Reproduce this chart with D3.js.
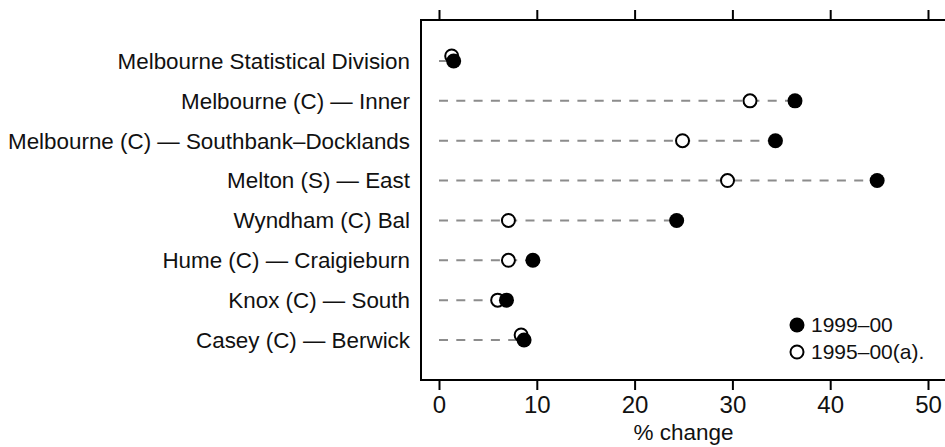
<!DOCTYPE html>
<html>
<head>
<meta charset="utf-8">
<script src="https://cdnjs.cloudflare.com/ajax/libs/d3/7.8.5/d3.min.js"></script>
<style>
  body { margin: 0; background: #fff; }
  text { font-family: "Liberation Sans", Arial, sans-serif; fill: #111; }
</style>
</head>
<body>
<div id="chart"></div>
<script>
// data
var regions = ["Melbourne Statistical Division", "Melbourne (C) \u2014 Inner",
  "Melbourne (C) \u2014 Southbank\u2013Docklands", "Melton (S) \u2014 East",
  "Wyndham (C) Bal", "Hume (C) \u2014 Craigieburn", "Knox (C) \u2014 South",
  "Casey (C) \u2014 Berwick"]
var change9900 = [1.5, 36.4, 34.4, 44.8, 24.3, 9.6, 6.9, 8.7]
var change9500 = [1.3, 31.8, 24.9, 29.5, 7.1, 7.1, 6.0, 8.4]
var xTicks = [0, 10, 20, 30, 40, 50]
var legendLabels = ["1999\u201300", "1995\u201300(a)."]

const W = 945, H = 447
const frame = {left: 421, top: 20, bottom: 380}

var svg = d3.select("#chart")
  .append("svg")
  .attr("width", W)
  .attr("height", H)

// scales
var x = d3.scaleLinear()
  .domain([0, 50])
  .range([439, 928])

var y = d3.scalePoint()
  .domain(regions)
  .range([61, 340])

// axes (ticks only, frame drawn separately)
svg.append("g")
  .attr("transform", "translate(0," + frame.top + ")")
  .call(d3.axisTop(x).tickValues(xTicks).tickSize(10).tickFormat(""))
  .call(g => g.select(".domain").remove())
  .selectAll("line").attr("stroke", "#000").attr("stroke-width", 2)

var xb = svg.append("g")
  .attr("transform", "translate(0," + frame.bottom + ")")
  .call(d3.axisBottom(x).tickValues(xTicks).tickSize(10))
  .call(g => g.select(".domain").remove())
xb.selectAll("line").attr("stroke", "#000").attr("stroke-width", 2)
xb.selectAll("text")
  .attr("y", 33)
  .attr("dy", null)
  .style("font-family", "Liberation Sans, Arial, sans-serif")
  .style("font-size", "24px")
  .attr("fill", "#111")

// frame
svg.append("path")
  .attr("d", "M" + W + "," + frame.top + "H" + frame.left + "V" + frame.bottom + "H" + W)
  .attr("fill", "none")
  .attr("stroke", "#000")
  .attr("stroke-width", 2)

// x title
svg.append("text")
  .attr("x", x(25))
  .attr("y", 440)
  .attr("text-anchor", "middle")
  .style("font-size", "22.5px")
  .text("% change")

// category labels
svg.selectAll(".lab")
  .data(regions)
  .enter()
  .append("text")
  .attr("class", "lab")
  .attr("x", 410)
  .attr("y", d => y(d))
  .attr("dy", "0.35em")
  .attr("text-anchor", "end")
  .style("font-size", "22.4px")
  .text(d => d)

// dashed guide lines
svg.selectAll(".guide")
  .data(regions)
  .enter()
  .append("line")
  .attr("class", "guide")
  .attr("x1", x(0))
  .attr("x2", (d, i) => x(Math.max(change9900[i], change9500[i])))
  .attr("y1", d => y(d))
  .attr("y2", d => y(d))
  .attr("stroke", "#8c8c8c")
  .attr("stroke-width", 2)
  .attr("stroke-dasharray", "9,8.3")

// open circles (nudged up when they sit on the filled one)
function nudge(i) {
  return Math.abs(change9900[i] - change9500[i]) < 0.5 ? -5 : 0
}

svg.selectAll(".open")
  .data(regions)
  .enter()
  .append("circle")
  .attr("class", "open")
  .attr("cx", (d, i) => x(change9500[i]))
  .attr("cy", (d, i) => y(d) + nudge(i))
  .attr("r", 6.5)
  .attr("fill", "#fff")
  .attr("stroke", "#000")
  .attr("stroke-width", 2)

svg.selectAll(".filled")
  .data(regions)
  .enter()
  .append("circle")
  .attr("class", "filled")
  .attr("cx", (d, i) => x(change9900[i]))
  .attr("cy", d => y(d))
  .attr("r", 7.5)
  .attr("fill", "#000")

// legend
var legend = svg.append("g")
legend.append("circle")
  .attr("cx", 797).attr("cy", 325).attr("r", 7.5).attr("fill", "#000")
legend.append("circle")
  .attr("cx", 797).attr("cy", 352).attr("r", 6.5)
  .attr("fill", "#fff").attr("stroke", "#000").attr("stroke-width", 2)
legend.selectAll("text")
  .data(legendLabels)
  .enter()
  .append("text")
  .attr("x", 811)
  .attr("y", (d, i) => 325 + i * 27)
  .attr("dy", "0.35em")
  .style("font-size", "21px")
  .text(d => d)
</script>
</body>
</html>
